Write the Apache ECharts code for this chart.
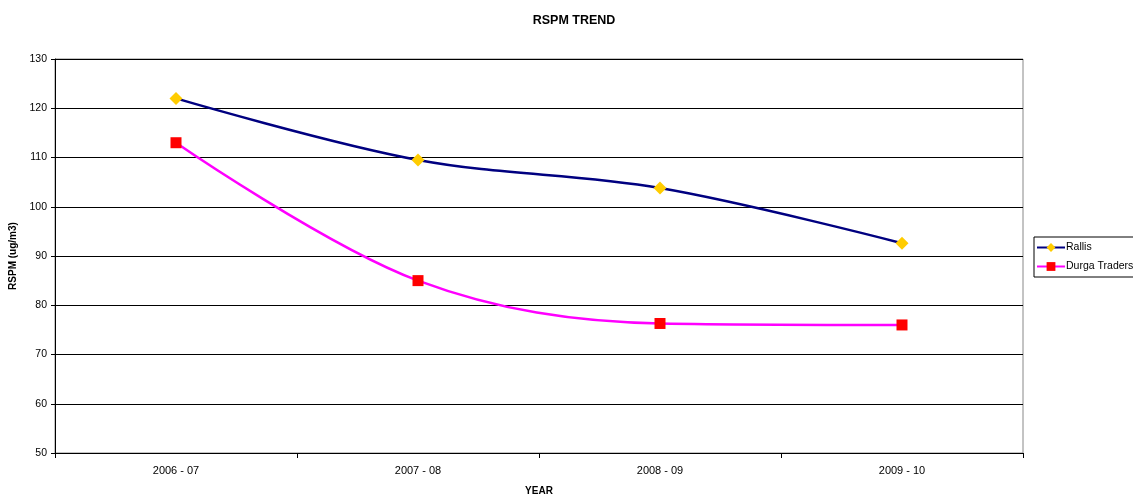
<!DOCTYPE html>
<html>
<head>
<meta charset="utf-8">
<style>
  html, body { margin: 0; padding: 0; background: #fff; }
  #chart { width: 1133px; height: 496px; }
</style>
<script src="https://cdn.jsdelivr.net/npm/echarts@6/dist/echarts.min.js"></script>
</head>
<body>
<div id="chart"></div>
<script>
// Years on the category axis
const years = ['2006 - 07', '2007 - 08', '2008 - 09', '2009 - 10'];
// RSPM readings (ug/m3) per monitoring station
const rallis = [122, 109.5, 103.8, 92.6];
const durgaTraders = [113, 85, 76.3, 76];

const font = 'Liberation Sans, Arial, sans-serif';
const chart = echarts.init(document.getElementById('chart'));

chart.setOption({
  animation: false,
  backgroundColor: '#fff',
  title: {
    text: 'RSPM TREND',
    left: 569, top: 9, textAlign: 'center',
    textStyle: { fontFamily: font, fontSize: 12.5, fontWeight: 'bold', color: '#000' }
  },
  legend: {
    orient: 'vertical',
    left: 1034, top: 237,
    padding: [5, 4, 5, 2],
    itemGap: 8,
    itemWidth: 28, itemHeight: 11,
    borderColor: '#000', borderWidth: 1,
    textStyle: { fontFamily: font, fontSize: 10.5, color: '#000', padding: [0, 0, 0, -4] },
    data: ['Rallis', 'Durga Traders']
  },
  grid: {
    left: 55, right: 110, top: 59, bottom: 43,
    outerBoundsMode: 'none',
    show: true, borderColor: '#888', borderWidth: 1
  },
  xAxis: {
    type: 'category',
    data: years,
    boundaryGap: true,
    name: 'YEAR',
    nameLocation: 'middle',
    nameGap: 33,
    nameTextStyle: { fontFamily: font, fontSize: 10, fontWeight: 'bold', color: '#000' },
    axisLine: { lineStyle: { color: '#000', width: 1 } },
    axisTick: { show: true, length: 5, lineStyle: { color: '#000' } },
    axisLabel: { fontFamily: font, fontSize: 11, color: '#000', margin: 12 }
  },
  yAxis: {
    type: 'value',
    min: 50, max: 130, interval: 10,
    name: 'RSPM (ug/m3)',
    nameLocation: 'middle',
    nameGap: 33,
    nameTextStyle: { fontFamily: font, fontSize: 10, fontWeight: 'bold', color: '#000' },
    axisLine: { show: true, lineStyle: { color: '#000', width: 1 } },
    axisTick: { show: true, length: 4, lineStyle: { color: '#000' } },
    axisLabel: { fontFamily: font, fontSize: 10.5, color: '#000', margin: 8 },
    splitLine: { show: true, lineStyle: { color: '#000', width: 1 } }
  },
  series: [
    {
      name: 'Rallis',
      type: 'line',
      data: rallis,
      smooth: 0.35,
      symbol: 'diamond',
      symbolSize: 13,
      itemStyle: { color: '#FFCC00' },
      lineStyle: { color: '#000080', width: 2.5 }
    },
    {
      name: 'Durga Traders',
      type: 'line',
      data: durgaTraders,
      smooth: 0.35,
      symbol: 'rect',
      symbolSize: 11,
      itemStyle: { color: '#FF0000' },
      lineStyle: { color: '#FF00FF', width: 2.5 }
    }
  ]
});
</script>
</body>
</html>
